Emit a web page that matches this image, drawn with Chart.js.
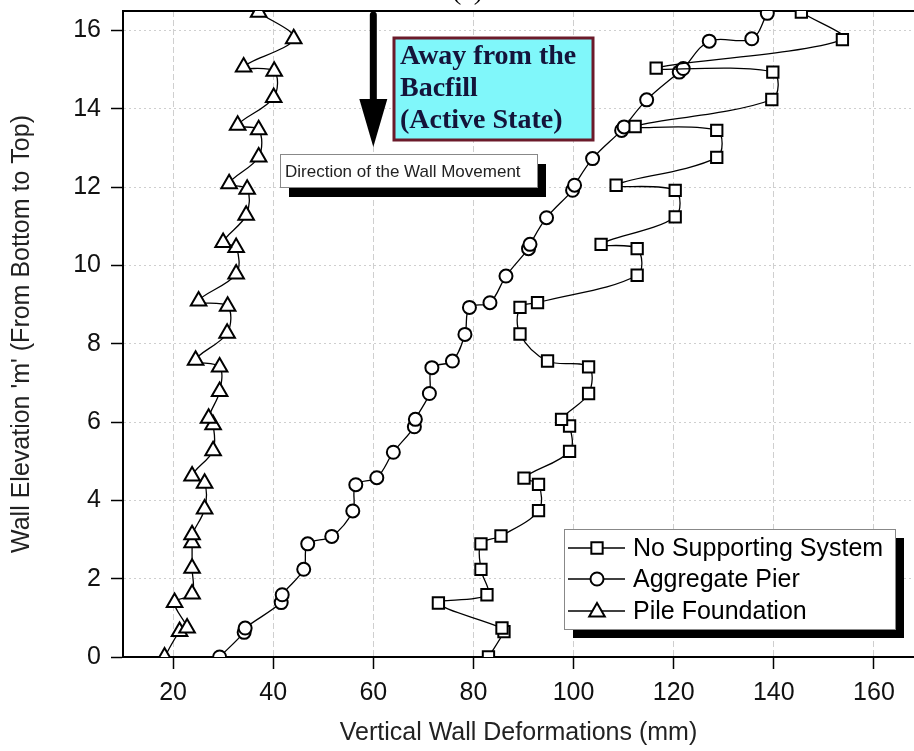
<!DOCTYPE html>
<html>
<head>
<meta charset="utf-8">
<script src="https://cdn.jsdelivr.net/npm/chart.js@4.4.0/dist/chart.umd.min.js"></script>
<style>
html,body{margin:0;padding:0;background:#fff;overflow:hidden}
#wrap{width:914px;height:751px}
</style>
</head>
<body>
<div id="wrap"><canvas id="c" width="914" height="751"></canvas></div>
<script>
// wall elevation (m) vs vertical deformation (mm)
const noSupportY = [0,0.65,0.74,1.38,1.59,2.24,2.89,3.09,3.74,4.41,4.57,5.25,5.90,6.07,6.73,7.41,7.56,8.25,8.93,9.05,9.75,10.43,10.54,11.24,11.92,12.05,12.76,13.45,13.55,14.24,14.94,15.04,15.77,16.47];
const noSupportX = [83.0,86.1,85.7,73.0,82.7,81.5,81.5,85.5,93.0,93.0,90.1,99.2,99.2,97.6,103.0,103.0,94.8,89.3,89.3,92.8,112.7,112.7,105.5,120.3,120.3,108.5,128.6,128.6,112.3,139.6,139.8,116.5,153.7,145.5];

const pierY = [0,0.63,0.74,1.39,1.59,2.24,2.89,3.08,3.73,4.40,4.58,5.23,5.88,6.07,6.73,7.39,7.56,8.24,8.93,9.05,9.73,10.43,10.54,11.22,11.92,12.05,12.73,13.45,13.54,14.23,14.94,15.03,15.73,15.79,16.44];
const pierX = [29.3,34.2,34.4,41.6,41.8,46.1,46.9,51.7,55.9,56.5,60.7,64.0,68.2,68.4,71.2,71.7,75.8,78.3,79.2,83.3,86.5,91.0,91.3,94.6,99.8,100.2,103.8,109.6,110.1,114.6,121.1,121.9,127.1,135.6,138.7];

const pileY = [0,0.65,0.74,1.39,1.61,2.27,2.92,3.12,3.78,4.44,4.62,5.27,5.93,6.10,6.78,7.41,7.58,8.27,8.96,9.09,9.78,10.46,10.59,11.28,11.95,12.09,12.77,13.47,13.58,14.29,14.96,15.07,15.79,16.47];
const pileX = [18.3,21.3,22.8,20.3,23.8,23.8,23.8,23.8,26.3,26.3,23.8,28.0,28.0,27.1,29.3,29.3,24.5,30.8,30.9,25.1,32.6,32.6,30.0,34.6,34.8,31.2,37.1,37.1,32.9,40.1,40.2,34.1,44.1,37.1];

const xTicks = [20,40,60,80,100,120,140,160];
const yTicks = [0,2,4,6,8,10,12,14,16];
const seriesNames = ["No Supporting System","Aggregate Pier","Pile Foundation"];
const seriesStyles = ["rect","circle","triangle"];

const SANS = 'Arial, "Liberation Sans", sans-serif';
const SERIF = '"Times New Roman", "Liberation Serif", serif';

function pts(xs, ys){ return xs.map((x,i)=>({x, y: ys[i]})); }

function ds(label, data, style, r){
  return {label, data, showLine:true, tension:0.35, fill:false,
    borderColor:"#000", borderWidth:1.3,
    pointStyle:style, pointRadius:r, pointHoverRadius:r,
    pointBackgroundColor:"#fff", pointBorderColor:"#000", pointBorderWidth:2};
}

function noPad(s){ s.paddingTop = 0; s.paddingBottom = 0; s.paddingLeft = 0; s.paddingRight = 0; }

function marker(ctx, style, x, y, r){
  ctx.beginPath();
  if(style==="rect"){ const s=r*Math.SQRT1_2; ctx.rect(x-s,y-s,2*s,2*s); }
  else if(style==="circle"){ ctx.arc(x,y,r,0,Math.PI*2); }
  else { ctx.moveTo(x,y-r); ctx.lineTo(x+r*0.866,y+r/2); ctx.lineTo(x-r*0.866,y+r/2); ctx.closePath(); }
  ctx.fillStyle="#fff"; ctx.fill();
  ctx.lineWidth=2; ctx.strokeStyle="#000"; ctx.stroke();
}

const extras = {
  id:"extras",
  beforeDatasetsDraw(chart){
    const {ctx, chartArea:a} = chart;
    ctx.save();
    ctx.strokeStyle="#000"; ctx.lineWidth=2;
    ctx.beginPath(); ctx.moveTo(a.left, a.top); ctx.lineTo(a.right, a.top); ctx.stroke();
    ctx.restore();
  },
  afterDatasetsDraw(chart){
    const {ctx} = chart;
    ctx.save();
    // partial panel caption cut off at the top
    ctx.fillStyle="#000"; ctx.font="28px "+SERIF; ctx.textBaseline="alphabetic";
    ctx.fillText("(a)", 452, -1);

    // arrow
    const ax = chart.scales.x.getPixelForValue(60);
    ctx.fillStyle="#000";
    ctx.fillRect(ax-3.5, 15, 7, 88);
    ctx.beginPath(); ctx.arc(ax, 15, 3.5, Math.PI, 0); ctx.fill();
    ctx.beginPath(); ctx.moveTo(ax-14, 99); ctx.lineTo(ax+14, 99); ctx.lineTo(ax, 147); ctx.closePath(); ctx.fill();

    // cyan label
    ctx.fillStyle="#80f7fa"; ctx.fillRect(394, 38, 199, 102);
    ctx.strokeStyle="#6b1a2a"; ctx.lineWidth=3; ctx.strokeRect(394, 38, 199, 102);
    ctx.fillStyle="#14143a"; ctx.font="bold 28px "+SERIF;
    ctx.fillText("Away from the", 400, 64);
    ctx.fillText("Bacfill", 400, 96);
    ctx.fillText("(Active State)", 400, 128);

    // direction box
    ctx.fillStyle="#000"; ctx.fillRect(289, 164, 257, 33);
    ctx.fillStyle="#fff"; ctx.fillRect(280, 154, 257, 33);
    ctx.strokeStyle="#888"; ctx.lineWidth=1; ctx.strokeRect(280.5, 154.5, 257, 33);
    ctx.fillStyle="#222"; ctx.font="17px "+SANS; ctx.textBaseline="middle";
    ctx.fillText("Direction of the Wall Movement", 285, 172);

    // legend
    ctx.fillStyle="#000"; ctx.fillRect(573, 538, 331, 100);
    ctx.fillStyle="#fff"; ctx.fillRect(564, 529, 331, 100);
    ctx.strokeStyle="#888"; ctx.lineWidth=1; ctx.strokeRect(564.5, 529.5, 331, 100);
    const rows=[548,579,611], rad=[8,6.5,9];
    ctx.font="25px "+SANS;
    rows.forEach((y,i)=>{
      ctx.strokeStyle="#000"; ctx.lineWidth=1.3;
      ctx.beginPath(); ctx.moveTo(568,y); ctx.lineTo(625,y); ctx.stroke();
      marker(ctx, seriesStyles[i], 597, y + (i===2?1:0), rad[i]);
      ctx.fillStyle="#000"; ctx.textBaseline="middle";
      ctx.fillText(seriesNames[i], 633, y+1);
    });
    ctx.restore();
  }
};

new Chart(document.getElementById("c"), {
  type:"scatter",
  data:{datasets:[
    ds(seriesNames[0], pts(noSupportX, noSupportY), seriesStyles[0], 8),
    ds(seriesNames[1], pts(pierX, pierY), seriesStyles[1], 6.5),
    ds(seriesNames[2], pts(pileX, pileY), seriesStyles[2], 9)
  ]},
  options:{
    responsive:false, animation:false, devicePixelRatio:1,
    layout:{autoPadding:false, padding:{top:11,right:0,left:0,bottom:0}},
    plugins:{legend:{display:false}, tooltip:{enabled:false}},
    events:[],
    scales:{
      x:{type:"linear", position:"bottom", min:10, max:168,
        afterBuildTicks:s=>{ s.ticks = xTicks.map(v=>({value:v})); },
        afterFit:s=>{ s.height = 94; noPad(s); },
        grid:{color:"#cfcfcf", lineWidth:1, tickColor:"#000", tickLength:12, tickWidth:1.5},
        border:{color:"#000", width:2, dash:[6,3]},
        ticks:{color:"#111", font:{family:SANS, size:25}, padding:9, maxRotation:0},
        title:{display:true, text:"Vertical Wall Deformations (mm)", color:"#222",
          font:{family:SANS, size:25}, padding:{top:0,bottom:3}}
      },
      y:{type:"linear", position:"left", min:0, max:16.5,
        afterBuildTicks:s=>{ s.ticks = yTicks.map(v=>({value:v})); },
        afterFit:s=>{ s.width = 123; noPad(s); },
        grid:{color:"#cfcfcf", lineWidth:1, tickColor:"#000", tickLength:12, tickWidth:1.5},
        border:{color:"#000", width:2, dash:[2,3]},
        ticks:{color:"#111", font:{family:SANS, size:25}, padding:10},
        title:{display:true, text:"Wall Elevation 'm' (From Bottom to Top)", color:"#222",
          font:{family:SANS, size:25}, padding:{top:7,bottom:0}}
      }
    }
  },
  plugins:[extras]
});
</script>
</body>
</html>
